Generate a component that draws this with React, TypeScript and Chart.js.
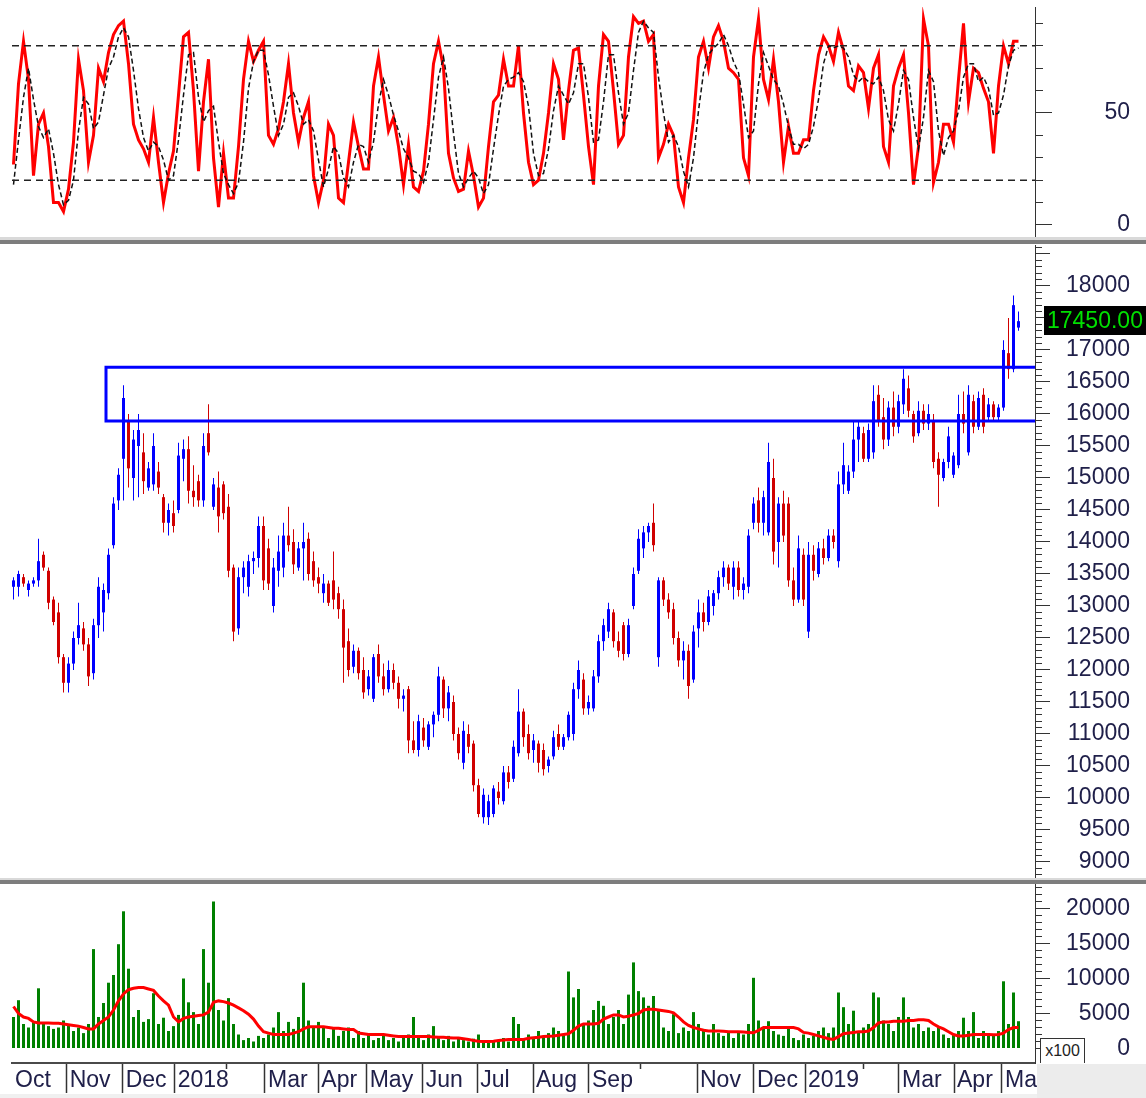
import React, { useEffect, useRef } from "react";
import Chart from "chart.js/auto";

// ---------------- data (one slot = two trading sessions) ----------------
const OPEN = [
  13300,13300,13450,13250,13350,13400,13800,13550,13100,12900,
  12200,11800,12100,12500,12650,12400,11950,12700,12900,13200,
  13950,14650,15300,15900,15000,15500,15400,14850,14900,15100,
  14700,14300,14450,14500,15300,15450,14800,14950,14650,15700,
  14550,14850,14900,14550,13600,12650,13450,13300,13700,13750,
  14250,13900,13000,13550,13600,14100,14000,13600,13900,14050,
  13700,13450,13200,13350,13400,13200,12950,12450,12050,12300,
  12000,11700,11550,12250,11900,11700,12000,11800,11550,11700,
  10900,10750,11100,10800,11150,11300,11850,11400,11500,11000,
  10550,11000,10850,10200,9700,9700,9750,10100,9950,10400,
  10300,10700,11350,11000,10750,10850,10750,10500,10650,11000,
  10800,10950,11000,11700,11850,11400,11400,11900,12450,12600,
  12900,12450,12700,12250,13000,13550,13900,14150,14300,12200,
  13400,13100,12950,12500,12150,12300,11850,12650,12900,12750,
  13000,13200,13450,13600,13300,13600,13250,13300,14300,14650,
  14300,14150,15000,14000,14600,14600,13400,13100,13800,12600,
  13800,13500,13900,13750,14100,13700,14900,14800,15100,15600,
  15700,15300,15400,16300,15950,15600,16100,15800,16150,16400,
  16000,15700,16050,15850,15900,15300,15000,15250,15050,15200,
  16000,15400,16200,15800,16300,15950,16150,15950,16100,16950,
  16700,17350,
];
const HIGH = [
  13450,13550,13500,13400,13450,14050,13850,13600,13150,13050,
  12250,12200,12600,13050,12750,12500,12800,13450,13350,13900,
  14700,15150,16450,16000,15750,16000,15700,15250,15700,15250,
  14750,14600,14650,15550,15600,15650,15200,15050,15700,16150,
  15000,15100,14950,14750,13650,13600,13700,13800,13850,14400,
  14400,14050,13750,14100,14300,14550,14200,14000,14300,14150,
  13850,13600,13500,13400,13850,13300,13100,12650,12400,12350,
  12200,12000,12250,12400,12100,12150,12100,11900,11700,11750,
  11200,11300,11250,11200,11350,12050,11900,11750,11600,11100,
  11200,11150,10900,10300,10150,10050,10200,10250,10500,10500,
  10900,11700,11400,11150,11000,10900,10850,10650,11050,11150,
  11000,11350,11800,12150,11950,11600,12000,12550,12800,13050,
  12950,12600,12750,12800,13600,14200,14250,14300,14600,13450,
  13450,13200,13050,12600,12450,12400,12700,13100,13050,13250,
  13250,13550,13700,13650,13700,13700,13450,14200,14700,14850,
  14800,15550,15300,14700,14800,14700,13600,14100,13900,14000,
  13950,14000,14050,14200,14200,15100,15550,15200,15900,15900,
  15800,15850,16450,16450,16250,16200,16350,16300,16700,16600,
  16050,16200,16150,16150,16000,15400,15300,15800,15400,16300,
  16350,16450,16300,16350,16400,16250,16200,16150,17150,17500,
  17850,17600,
];
const LOW = [
  13100,13150,13300,13150,13300,13300,13550,12950,12700,12100,
  11650,11650,12000,12400,12300,11750,11850,12500,12600,13100,
  13900,14500,14650,14850,14650,14700,14750,14800,14800,14750,
  14150,14100,14150,14450,14950,14600,14550,14550,14550,15350,
  14500,14150,14350,13450,12450,12550,13200,13150,13500,13600,
  13250,13250,12900,13300,13450,13850,13500,13550,13400,13400,
  13300,13200,13050,13000,12950,12800,11800,11900,11950,11850,
  11550,11600,11500,11800,11600,11650,11700,11400,11350,10700,
  10700,10650,10800,10750,10950,11200,11250,11200,10900,10600,
  10450,10700,10100,9700,9600,9580,9700,9900,9900,10150,
  10250,10650,10800,10600,10550,10400,10350,10400,10600,10750,
  10750,10900,10900,11550,11300,11300,11350,11800,12300,12500,
  12350,12200,12150,12200,12950,13500,13750,14000,13850,12050,
  13000,12800,12400,12050,11850,11550,11800,12350,12600,12700,
  12850,13100,13300,13250,13100,13150,13100,13200,14200,14150,
  14100,14100,13650,13600,14000,13300,13000,13050,13000,12500,
  13400,13450,13650,13700,13900,13600,14750,14750,15000,15250,
  15250,15250,15300,15800,15450,15500,15650,15700,16000,15950,
  15550,15650,15750,15750,15150,14550,14950,15150,15000,15150,
  15700,15350,15700,15750,15700,15900,15900,15900,16050,16550,
  16650,17300,
];
const CLOSE = [
  13400,13500,13350,13350,13400,13700,13600,13050,12750,12200,
  11800,12100,12500,12700,12400,11900,12700,13300,13250,13800,
  14600,15050,16250,15150,15600,15750,14950,15150,15500,14850,
  14300,14500,14250,15350,15450,14800,14700,14650,15500,15400,
  14900,14400,14450,13550,12600,13450,13600,13700,13750,14250,
  13400,13350,13600,13850,14100,13950,13650,13900,14000,13500,
  13400,13350,13350,13050,13100,12950,12350,12000,12300,11950,
  11650,11900,12200,11900,11700,12000,11800,11550,11600,10900,
  10750,11200,10900,11150,11300,11900,11400,11650,11000,10700,
  11050,10800,10200,9750,10050,9950,10150,10000,10400,10250,
  10800,11350,10950,10700,10900,10550,10450,10600,10950,10800,
  10950,11300,11700,12000,11400,11500,11900,12450,12700,12950,
  12450,12300,12250,12700,13500,14050,14150,14250,13950,13400,
  13100,12900,12500,12150,12300,11750,12600,12900,12750,13150,
  13200,13450,13600,13350,13600,13250,13350,14100,14600,14300,
  14700,15250,13850,14600,14100,13400,13100,13900,13100,13800,
  13550,13900,13750,14100,14000,14900,15200,15100,15600,15800,
  15300,15750,16200,15900,15600,16100,15800,16200,16550,16050,
  15650,16050,15850,16000,15250,15050,15250,15650,15350,16000,
  15850,16300,15800,16250,15800,16150,15950,16100,17000,16700,
  17700,17450,
];
const VOLUME = [
  4500,6900,3500,3000,3800,8600,3500,3200,2800,3000,
  4000,3300,2500,3000,2200,3500,14200,4500,6500,9400,
  10500,14900,19600,11400,4500,5500,3800,4200,7900,3500,
  4400,2500,3200,4800,10000,6600,5200,3500,14200,9400,
  21000,5500,4000,7200,3500,2000,1200,1500,1000,1800,
  1500,2000,3000,5200,2500,3800,2800,4500,9400,4000,
  3000,3800,3000,1500,2800,1800,2500,3000,1500,2500,
  1500,2200,1200,1500,1800,1200,1500,1000,1800,2000,
  4500,1500,1200,2000,3200,1500,1200,1800,1000,1500,
  1200,1000,1400,2000,1200,800,1000,1200,1500,1000,
  4500,3500,1500,2000,1500,2500,1800,2200,3000,2500,
  2000,11000,7300,8500,3500,4000,5500,6800,6100,3500,
  4500,5500,3500,7700,12300,8200,7300,6100,7500,5500,
  3000,2500,4900,2200,3000,2500,5200,3500,2800,2000,
  3500,2200,1800,2500,1500,2500,2000,3500,10100,4000,
  3000,3900,2500,2000,1800,2800,1500,1200,2000,1500,
  1800,2500,3000,2200,3000,8000,5900,3500,5400,2500,
  3000,3500,8000,7300,4000,3500,2500,4500,7300,4500,
  3000,3500,2500,3000,2500,3000,2000,1500,2000,2500,
  4400,2500,5200,1500,2500,2200,1800,2500,9600,3500,
  8000,3900,
];
const VOLUME_MA = [
  6000,5000,4500,4300,3800,3650,3650,3650,3600,3600,
  3500,3400,3300,3200,3000,2800,2800,3500,4000,4500,
  5500,6800,7800,8400,8600,8700,8700,8500,8300,7500,
  6800,6200,4500,3800,4300,4500,4600,4700,4800,5200,
  6600,6800,6700,6500,6200,5800,5400,4900,4200,3200,
  2400,2200,2000,2000,2000,2000,2200,2400,2800,3100,
  3100,3100,3100,3000,2900,2900,2800,2700,2700,2200,
  2100,2000,2000,2000,2000,1900,1800,1700,1700,1700,
  1700,1700,1700,1700,1650,1600,1600,1550,1500,1500,
  1400,1300,1150,1050,1000,1000,1050,1150,1200,1300,
  1300,1300,1300,1450,1550,1600,1700,1750,1800,1900,
  2000,2100,2600,3200,3500,3500,3500,3600,4200,4500,
  4800,4800,4500,4600,4800,5000,5500,5600,5600,5500,
  5400,5300,5100,4500,3800,3300,3000,2800,2600,2500,
  2500,2500,2450,2400,2400,2400,2350,2300,2250,2600,
  3000,3000,3000,3000,3000,3000,3000,2800,2300,2200,
  2000,1800,1600,1400,1300,1700,2100,2200,2300,2400,
  2400,2500,3000,3650,3800,3800,3900,3900,3900,4000,
  4000,4100,4100,4000,3500,3100,2800,2400,2000,1800,
  1800,1900,2000,2000,2000,2000,1950,2000,2200,2700,
  3000,3000,
];
const STOCH_K = [
  27,63,82,65,22,45,50,35,10,10,
  6,16,37,74,60,28,40,70,64,77,
  85,89,91,72,45,38,34,28,48,28,
  10,23,33,58,84,86,60,24,55,74,
  30,8,32,12,12,35,65,82,73,78,
  82,40,36,43,55,72,50,37,48,55,
  22,10,20,45,40,12,10,28,46,35,
  25,25,62,75,58,42,48,35,18,36,
  17,15,24,45,72,82,70,32,21,15,
  16,33,22,8,12,35,55,58,74,62,
  62,80,50,28,18,20,32,50,72,65,
  38,60,78,79,58,35,18,62,85,82,
  60,36,40,75,93,90,91,82,85,30,
  36,45,40,17,10,30,47,75,82,70,
  84,89,82,70,68,65,30,22,75,92,
  65,56,74,55,28,44,32,32,38,38,
  60,76,84,80,73,86,78,62,60,71,
  68,52,70,76,35,28,62,70,76,50,
  18,35,92,80,19,28,45,45,37,65,
  90,55,70,68,61,55,32,62,80,72,
  82,82,
];
const STOCH_D = [
  18,38,57,70,56,44,39,43,32,18,
  9,11,20,42,57,54,43,46,58,70,
  75,84,88,84,69,52,39,33,37,35,
  29,20,22,38,58,76,77,57,46,51,
  53,37,23,18,14,19,37,61,73,78,
  78,67,53,40,45,57,59,53,45,47,
  42,29,17,25,35,32,21,17,28,36,
  35,28,37,54,65,58,49,42,34,30,
  24,23,19,28,47,66,75,61,41,23,
  17,21,24,21,14,18,34,49,62,65,
  66,68,64,53,32,22,23,34,51,62,
  58,54,59,72,72,57,37,38,55,76,
  76,59,45,50,69,86,91,88,86,66,
  50,37,40,35,24,17,30,51,68,76,
  79,81,85,80,73,68,54,39,42,63,
  77,71,65,62,54,44,36,36,34,36,
  44,56,72,80,79,80,79,75,67,64,
  66,64,63,66,60,47,42,54,69,65,
  48,34,48,69,64,42,31,39,42,51,
  66,72,72,64,66,61,49,50,58,71,
  78,79,
];
const STOCH_LEVELS = [80, 20];
const MONTH_LABELS = ["Oct","Nov","Dec","2018","","Mar","Apr","May","Jun","Jul","Aug","Sep","","Nov","Dec","2019","","Mar","Apr","Ma"];
const MONTH_EDGES = [-0.3,10.64,21.84,32.24,42.64,50.3,60.96,70.64,81.84,92.76,103.9,115.1,125.5,136.7,148.1,158.3,169.9,177.1,188.1,197.7];
const ZONE_START = 18.5;
const ZONE_HIGH = 16730;
const ZONE_LOW = 15890;

// ---------------- axis ranges ----------------
const X_MIN = -0.3, X_MAX = 204.3;
const PRICE_MIN = 8750, PRICE_MAX = 18640, PRICE_LABEL_MAX = 18000;
const STOCH_MIN = -5.36, STOCH_MAX = 97.32;
const VOL_MIN = -2071, VOL_MAX = 23500, VOL_LABEL_MAX = 20000;

const FONT = "'Liberation Sans', Arial, Helvetica, sans-serif";
const LABEL_COLOR = "#20204a";
const BLUE = "#0000ff";
const RED = "#d00000";

function steps(a: number, b: number, s: number) {
  const out: number[] = [];
  for (let v = a; v <= b + 1e-9; v += s) out.push(v);
  return out;
}
const PRICE_TICKS = steps(8800, 18600, 100);
const STOCH_TICKS = steps(0, 90, 10);
const VOL_TICKS = steps(0, 23000, 1000);

function rightAxis(min: number, max: number, tickValues: number[], major: number, labelMax: number, tickLen: number, minorLen: number, padding: number) {
  const isMajor = (v: number) => Math.abs(v % major) < 1e-6;
  return {
    type: "linear",
    position: "right",
    min,
    max,
    afterBuildTicks: (s: any) => { s.ticks = tickValues.map((v) => ({ value: v })); },
    afterFit: (s: any) => { s.width = 95; s.paddingTop = 0; s.paddingBottom = 0; },
    border: { display: true, color: "#333", width: 1 },
    grid: {
      drawOnChartArea: false,
      drawTicks: true,
      tickLength: tickLen,
      tickColor: "#333",
      tickWidth: 1,
      tickBorderDash: (ctx: any) => (ctx.tick && !isMajor(ctx.tick.value) ? [minorLen, 200] : []),
    },
    ticks: {
      autoSkip: false,
      crossAlign: "far",
      padding,
      color: LABEL_COLOR,
      font: { family: FONT, size: 23 },
      callback: (v: any) => (isMajor(Number(v)) && Number(v) <= labelMax ? String(v) : ""),
    },
  };
}

const hiddenX = { type: "linear", min: X_MIN, max: X_MAX, display: false, offset: false, grid: { offset: false } };
const baseOpts = {
  responsive: false,
  maintainAspectRatio: false,
  animation: false,
  devicePixelRatio: 1,
  events: [],
  plugins: { legend: { display: false }, tooltip: { enabled: false } },
};

const zonePlugin = {
  id: "zone",
  afterDatasetsDraw(chart: any) {
    const { ctx, chartArea, scales } = chart;
    const x0 = scales.x.getPixelForValue(ZONE_START);
    const yT = scales.y.getPixelForValue(ZONE_HIGH);
    const yB = scales.y.getPixelForValue(ZONE_LOW);
    ctx.save();
    ctx.strokeStyle = BLUE;
    ctx.lineWidth = 3;
    ctx.beginPath();
    ctx.moveTo(chartArea.right, yT);
    ctx.lineTo(x0, yT);
    ctx.lineTo(x0, yB);
    ctx.lineTo(chartArea.right, yB);
    ctx.stroke();
    ctx.restore();
  },
  afterDraw(chart: any) {
    const { ctx, chartArea, scales } = chart;
    const last = CLOSE[CLOSE.length - 1];
    const y = scales.y.getPixelForValue(last);
    const x = chartArea.right + 9;
    ctx.save();
    ctx.fillStyle = "#000";
    ctx.fillRect(x, Math.round(y) - 15, chart.width - x, 29);
    ctx.fillStyle = "#00e000";
    ctx.font = `23px ${FONT}`;
    ctx.textAlign = "left";
    ctx.textBaseline = "middle";
    ctx.fillText(last.toFixed(2), x + 3, y);
    ctx.restore();
  },
};

export default function App() {
  const stochRef = useRef<HTMLCanvasElement>(null);
  const priceRef = useRef<HTMLCanvasElement>(null);
  const volRef = useRef<HTMLCanvasElement>(null);

  useEffect(() => {
    document.body.style.margin = "0";
    const candleColors = CLOSE.map((c, i) => (c >= OPEN[i] ? BLUE : RED));

    const stoch = new Chart(stochRef.current as HTMLCanvasElement, {
      type: "line",
      data: {
        datasets: [
          ...STOCH_LEVELS.map((lv) => ({
            data: [{ x: X_MIN, y: lv }, { x: X_MAX, y: lv }],
            borderColor: "#222",
            borderWidth: 1.5,
            borderDash: [7, 5],
            pointRadius: 0,
          })),
          {
            data: STOCH_D.map((v, i) => ({ x: i, y: v })),
            borderColor: "#111",
            borderWidth: 1.5,
            borderDash: [5, 3],
            pointRadius: 0,
          },
          {
            data: STOCH_K.map((v, i) => ({ x: i, y: v })),
            borderColor: "#ff0000",
            borderWidth: 3,
            pointRadius: 0,
          },
        ],
      },
      options: {
        ...baseOpts,
        layout: { padding: { left: 12, right: 16, top: 7, bottom: 0 } },
        scales: { x: hiddenX, y: rightAxis(STOCH_MIN, STOCH_MAX, STOCH_TICKS, 50, 100, 17, 7, 49) },
      },
    } as any);

    const price = new Chart(priceRef.current as HTMLCanvasElement, {
      type: "bar",
      data: {
        datasets: [
          {
            data: CLOSE.map((_, i) => ({ x: i, y: [LOW[i], HIGH[i]] })),
            backgroundColor: candleColors,
            grouped: false,
            categoryPercentage: 1,
            barPercentage: 1,
            maxBarThickness: 1,
            inflateAmount: 0,
            borderWidth: 0,
          },
          {
            data: CLOSE.map((c, i) => ({ x: i, y: [OPEN[i], c] })),
            backgroundColor: candleColors,
            grouped: false,
            categoryPercentage: 1,
            barPercentage: 1,
            maxBarThickness: 3,
            inflateAmount: 0,
            borderWidth: 0,
          },
        ],
      },
      options: {
        ...baseOpts,
        layout: { padding: { left: 12, right: 16, top: 1, bottom: 0 } },
        scales: { x: hiddenX, y: rightAxis(PRICE_MIN, PRICE_MAX, PRICE_TICKS, 500, PRICE_LABEL_MAX, 15, 6, 13) },
      },
      plugins: [zonePlugin],
    } as any);

    const vol = new Chart(volRef.current as HTMLCanvasElement, {
      type: "bar",
      data: {
        datasets: [
          {
            type: "line",
            order: 0,
            data: VOLUME_MA.map((v, i) => ({ x: i, y: v })),
            borderColor: "#ff0000",
            borderWidth: 3,
            pointRadius: 0,
          },
          {
            type: "bar",
            order: 1,
            data: VOLUME.map((v, i) => ({ x: i, y: v })),
            backgroundColor: "#008000",
            grouped: false,
            categoryPercentage: 1,
            barPercentage: 1,
            maxBarThickness: 3,
            inflateAmount: 0,
            borderWidth: 0,
          },
        ],
      },
      options: {
        ...baseOpts,
        layout: { padding: { left: 12, right: 16, top: 0, bottom: 0 } },
        scales: {
          x: {
            type: "linear",
            position: "bottom",
            min: X_MIN,
            max: X_MAX,
            offset: false,
            afterBuildTicks: (s: any) => { s.ticks = MONTH_EDGES.map((v) => ({ value: v })); },
            afterFit: (s: any) => { s.height = 35; s.paddingLeft = 0; s.paddingRight = 0; },
            border: { display: true, color: "#4a4a4a", width: 2 },
            grid: {
              offset: false,
              drawOnChartArea: false,
              drawTicks: true,
              tickLength: 30,
              tickWidth: 1.5,
              tickColor: (ctx: any) => (ctx.index === 0 ? "rgba(0,0,0,0)" : "#333"),
              tickBorderDash: (ctx: any) => (ctx.tick && MONTH_LABELS[ctx.index] === "" ? [5, 200] : []),
            },
            ticks: {
              autoSkip: false,
              maxRotation: 0,
              minRotation: 0,
              align: "start",
              labelOffset: 3,
              padding: -26,
              color: LABEL_COLOR,
              font: { family: FONT, size: 23 },
              callback: (_v: any, i: number) => MONTH_LABELS[i],
            },
          },
          y: rightAxis(VOL_MIN, VOL_MAX, VOL_TICKS, 5000, VOL_LABEL_MAX, 15, 6, 13),
        },
      },
    } as any);

    return () => {
      stoch.destroy();
      price.destroy();
      vol.destroy();
    };
  }, []);

  const abs = (l: number, t: number, w: number, h: number, extra: any = {}) => ({
    position: "absolute" as const, left: l, top: t, width: w, height: h, ...extra,
  });

  return (
    <div style={{ position: "relative", width: 1146, height: 1098, background: "#fff", overflow: "hidden" }}>
      <canvas ref={stochRef} width={1146} height={237} style={abs(0, 0, 1146, 237)} />
      <div style={abs(0, 237, 1146, 3, { background: "#d9d9d9" })} />
      <div style={abs(0, 240, 1146, 4, { background: "#7d7d7d" })} />
      <canvas ref={priceRef} width={1146} height={634} style={abs(0, 244, 1146, 634)} />
      <div style={abs(0, 878, 1146, 2, { background: "#d9d9d9" })} />
      <div style={abs(0, 880, 1146, 4, { background: "#7d7d7d" })} />
      <canvas ref={volRef} width={1146} height={214} style={abs(0, 884, 1146, 214)} />
      <div style={abs(1037, 1064, 109, 34, { background: "#ececec" })} />
      <div style={abs(0, 1094, 1037, 4, { background: "#f0f0f0" })} />
      <div
        style={abs(1040, 1038, 43, 24, {
          border: "1px solid #333",
          borderBottom: "none",
          background: "#fff",
          font: `16px ${FONT}`,
          lineHeight: "24px",
          textAlign: "center",
          color: "#222",
        })}
      >
        x100
      </div>
    </div>
  );
}
